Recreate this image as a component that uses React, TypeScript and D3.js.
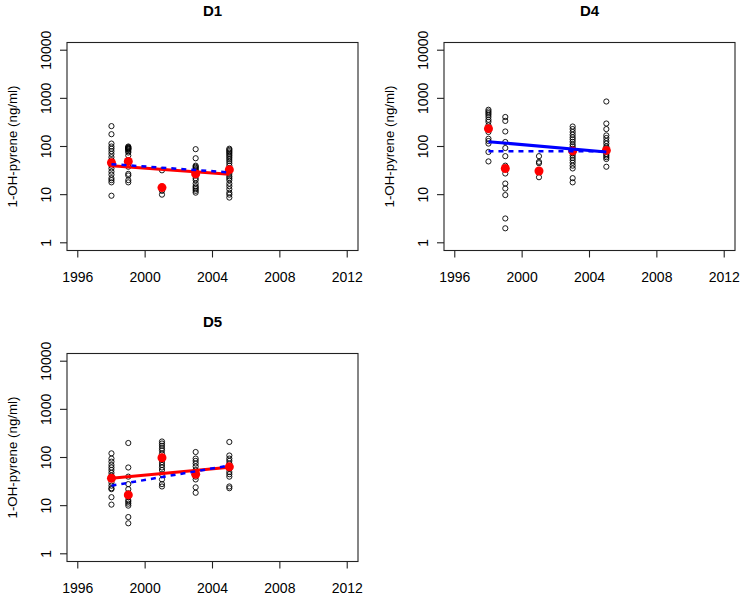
import React from "react";
import * as d3 from "d3";

// sampling years shared by all panels
const years = [1998, 1999, 2001, 2003, 2005];
const xTicks = [1996, 2000, 2004, 2008, 2012];
const yTicks = [1, 10, 100, 1000, 10000];

// individual measurements per year (ng/ml)
const d1Obs = [
  [265, 180, 115, 100, 90, 80, 70, 60, 52, 45, 40, 35, 30, 26, 22, 20, 18, 9.5],
  [100, 97, 94, 92, 90, 88, 85, 80, 75, 65, 50, 38, 27, 25, 20, 18],
  [32, 12, 10],
  [88, 57, 40, 38, 36, 34, 32, 30, 28, 25, 22, 20, 17, 15, 14, 13, 12, 11],
  [90, 85, 80, 75, 70, 65, 60, 55, 50, 45, 40, 35, 30, 27, 24, 22, 20, 17, 15, 13, 11, 10, 8.7],
];
const d4Obs = [
  [580, 535, 495, 455, 410, 360, 325, 275, 225, 200, 145, 130, 115, 77, 49],
  [410, 340, 205, 124, 93, 63, 40, 35, 27.5, 17, 13.4, 9.8, 3.2, 2.0],
  [63, 48, 45, 30, 23],
  [260, 230, 200, 175, 155, 140, 125, 110, 100, 90, 80, 72, 65, 58, 52, 46, 40, 35, 22, 18],
  [860, 300, 230, 170, 150, 130, 115, 100, 92, 85, 78, 70, 65, 60, 55, 38],
];
const d5Obs = [
  [122, 95, 82, 70, 62, 55, 48, 42, 36, 30, 26, 23, 22, 15, 10.5],
  [200, 62, 40, 28, 22, 18, 15, 13, 12, 11, 10, 5.8, 4.3],
  [215, 195, 175, 155, 140, 120, 100, 90, 80, 70, 62, 55, 45, 35, 28, 25],
  [130, 95, 85, 75, 65, 55, 48, 40, 35, 24, 18.5],
  [210, 110, 95, 85, 75, 65, 58, 50, 45, 40, 25, 23],
];

// yearly means (red dots)
const d1Means = [46, 49, 14, 27, 33];
const d4Means = [235, 35, 31, 81, 83];
const d5Means = [37, 16.7, 99, 45, 64];

// fitted trends, values at 1998 and 2005
const fitYears = [1998, 2005];
const d1Solid = [40, 26.5];
const d1Dashed = [43, 29];
const d4Solid = [126, 77];
const d4Dashed = [80, 80];
const d5Solid = [37, 63];
const d5Dashed = [26, 68];

const font = "'Liberation Sans', Arial, sans-serif";

type PanelProps = {
  title: string;
  left: number;
  top: number;
  obs: number[][];
  means: number[];
  solid: number[];
  dashed: number[];
  solidColor: string;
};

const Panel: React.FC<PanelProps> = ({ title, left, top, obs, means, solid, dashed, solidColor }) => {
  const w = 291;
  const h = 208;
  const right = left + w;
  const bottom = top + h;

  const x = d3.scaleLinear().domain([1995.36, 2012.64]).range([left, right]);
  const y = d3
    .scaleLog()
    .domain([Math.pow(10, -0.16), Math.pow(10, 4.16)])
    .range([bottom, top]);

  const line = d3
    .line<number>()
    .x((_, i) => x(fitYears[i]))
    .y((d) => y(d));

  return (
    <g>
      <text x={(left + right) / 2} y={top - 27} textAnchor="middle" fontWeight="bold" fontSize={15}>
        {title}
      </text>
      <rect x={left} y={top} width={w} height={h} fill="none" stroke="#222" strokeWidth={1.1} />

      {/* y axis */}
      {yTicks.map((t) => (
        <g key={t}>
          <line x1={left} x2={left - 7} y1={y(t)} y2={y(t)} stroke="#222" strokeWidth={1.1} />
          <text
            transform={`translate(${left - 16},${y(t)}) rotate(-90)`}
            textAnchor="middle"
            fontSize={14}
          >
            {t}
          </text>
        </g>
      ))}
      <text
        transform={`translate(${left - 50},${(top + bottom) / 2}) rotate(-90)`}
        textAnchor="middle"
        fontSize={13.3}
      >
        1-OH-pyrene (ng/ml)
      </text>

      {/* x axis */}
      {xTicks.map((t) => (
        <g key={t}>
          <line x1={x(t)} x2={x(t)} y1={bottom} y2={bottom + 7} stroke="#222" strokeWidth={1.1} />
          <text x={x(t)} y={bottom + 31} textAnchor="middle" fontSize={14}>
            {t}
          </text>
        </g>
      ))}

      {/* observations */}
      {obs.map((vals, i) =>
        vals.map((v, j) => (
          <circle key={`${i}-${j}`} cx={x(years[i])} cy={y(v)} r={2.6} fill="none" stroke="#000" strokeWidth={0.9} />
        ))
      )}

      {/* means */}
      {means.map((m, i) => (
        <circle key={`m${i}`} cx={x(years[i])} cy={y(m)} r={4.5} fill="#ff0000" />
      ))}

      <path d={line(solid) ?? ""} fill="none" stroke={solidColor} strokeWidth={3} />
      <path d={line(dashed) ?? ""} fill="none" stroke="#0000ff" strokeWidth={2.5} strokeDasharray="5,5" />
    </g>
  );
};

export default function App() {
  return (
    <div style={{ position: "absolute", left: 0, top: 0 }}>
      <svg width={743} height={595} style={{ display: "block", fontFamily: font, background: "#fff" }}>
        <Panel title="D1" left={67} top={42.5} obs={d1Obs} means={d1Means} solid={d1Solid} dashed={d1Dashed} solidColor="#ff0000" />
        <Panel title="D4" left={444} top={42.5} obs={d4Obs} means={d4Means} solid={d4Solid} dashed={d4Dashed} solidColor="#0000ff" />
        <Panel title="D5" left={67} top={353.5} obs={d5Obs} means={d5Means} solid={d5Solid} dashed={d5Dashed} solidColor="#ff0000" />
      </svg>
    </div>
  );
}
